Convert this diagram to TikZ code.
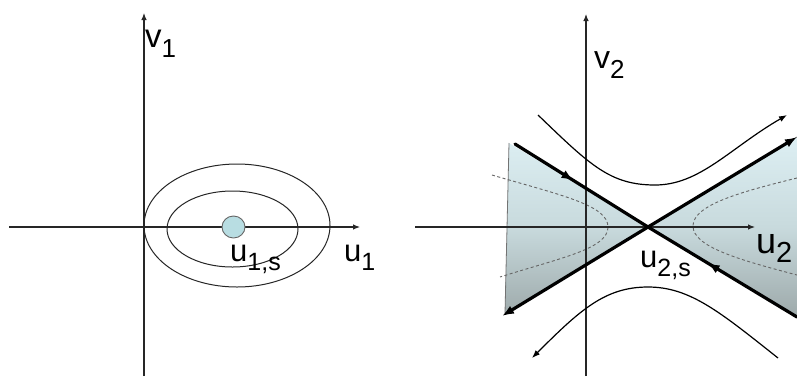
\documentclass[tikz,border=0pt]{standalone}
\usepackage{fontspec}
\setmainfont{Liberation Sans}
\usetikzlibrary{arrows.meta,decorations.markings,shapes.geometric}
\definecolor{dotfill}{HTML}{B8DDE2}
\definecolor{shtop}{HTML}{DDEFF3}
\definecolor{shmid}{HTML}{C8DADD}
\definecolor{shbot}{HTML}{9DA9AA}
\newcommand{\lbl}[5]{\fontsize{#1}{#1}\selectfont #3\raisebox{-#5pt}{\fontsize{#2}{#2}\selectfont #4}}
\tikzset{
  axis/.style={line width=1.1pt, draw=black!85, -{Latex[length=7pt,width=5.5pt]}},
  orbit/.style={line width=1pt, draw=black!85},
  flow/.style={line width=1.2pt, -{Latex[length=8pt,width=6pt]}},
  manif/.style={line width=3.2pt, line cap=round},
  dashc/.style={line width=0.9pt, draw=black!60, dash pattern=on 3pt off 2.5pt},
  txt/.style={inner sep=0pt, anchor=base west},
  midarrow/.style={postaction={decorate, decoration={markings, mark=at position #1 with {\arrow{Latex[length=12pt,width=9pt]}}}}}
}
\begin{document}
\begin{tikzpicture}[x=1pt,y=-1pt]
\useasboundingbox (0,0) rectangle (797,376);
\fill[white] (0,0) rectangle (797,376);
% ---------- left panel ----------
\coordinate (v1b) at (144,376);
\coordinate (v1t) at (144,13);
\coordinate (u1l) at (9,227);
\coordinate (u1r) at (360,227);
\draw[axis] (v1b) -- (v1t);
\draw[axis] (u1l) -- (u1r);
\coordinate (c1o) at (237,225.5);
\coordinate (c1i) at (232.5,229);
\draw[orbit] (c1o) ellipse [x radius=93pt, y radius=61.5pt];
\draw[orbit] (c1i) ellipse [x radius=65.5pt, y radius=38pt];
\node[ellipse, minimum width=23pt, minimum height=22pt, fill=dotfill, draw=black!60, line width=0.9pt, inner sep=0pt] (dot) at (233.5,227) {};
\node[txt] (v1) at (145,47) {\lbl{33}{26}{v}{1}{10}};
\node[txt] (u1) at (344,261) {\lbl{31}{25}{u}{1}{9}};
\node[txt] (u1s) at (230,261) {\lbl{31}{25}{u}{1,s}{9}};
% ---------- right panel ----------
\coordinate (S) at (648,227);
\coordinate (tl) at (509,143);
\coordinate (bl) at (505,313);
\coordinate (tr) at (797,137);
\coordinate (br) at (797,317);
\shade[top color=shtop, bottom color=shbot, middle color=shmid]
  (tl) -- (S) -- (tr) -- (br) -- (S) -- (bl) -- cycle;
\draw[black!55, line width=0.8pt] (bl) -- (tl);
\draw[black!55, line width=0.8pt] (S) -- (tr);
% dashed curves
\draw[dashc] (492,175) .. controls (560,195) and (608,205) .. (608,227)
             .. controls (608,249) and (560,258) .. (500,277);
\draw[dashc] (797,178) .. controls (740,192) and (693,205) .. (693,226)
             .. controls (693,247) and (740,260) .. (797,275);
% axes
\coordinate (v2b) at (586,376);
\coordinate (v2t) at (586,14);
\coordinate (u2l) at (415,227);
\coordinate (u2r) at (755,227);
\draw[axis] (v2b) -- (v2t);
\draw[axis] (u2l) -- (u2r);
% flow curves
\coordinate (h1a) at (538,115);
\coordinate (h1m) at (655,185);
\coordinate (h1b) at (787,115);
\draw[flow] (h1a) .. controls (590,165) and (610,185) .. (h1m)
            .. controls (700,185) and (730,148) .. (h1b);
\coordinate (h2a) at (778,358);
\coordinate (h2m) at (648,287);
\coordinate (h2b) at (532,358);
\draw[flow] (h2a) .. controls (720,312) and (690,287) .. (h2m)
            .. controls (605,287) and (580,310) .. (h2b);
% manifolds
\coordinate (sa) at (515,144);
\coordinate (sb) at (797,317);
\coordinate (ua) at (502,316);
\coordinate (ub) at (797,137);
\draw[manif, midarrow=0.44] (sa) -- (S);
\draw[manif, midarrow=0.6] (sb) -- (S);
\draw[manif, -{Latex[length=12pt,width=9pt]}] (S) -- (ua);
\draw[manif, -{Latex[length=12pt,width=9pt]}] (S) -- (ub);
% labels
\node[txt] (v2) at (594,68) {\lbl{32}{26}{v}{2}{10}};
\node[txt] (u2) at (756,253) {\lbl{36}{29}{u}{2}{9}};
\node[txt] (u2s) at (640,267) {\lbl{31}{25}{u}{2,s}{9}};
\end{tikzpicture}
\end{document}
